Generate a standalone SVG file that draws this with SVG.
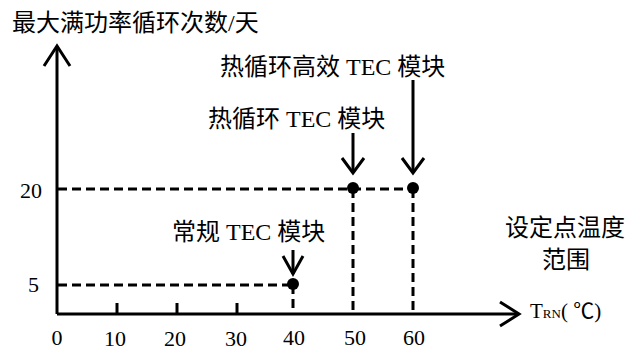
<svg xmlns="http://www.w3.org/2000/svg" width="630" height="351" viewBox="0 0 630 351">
<style>
.t{font-family:"Liberation Serif","Noto Sans CJK SC",serif;fill:#000}
.cj{font-size:24px}
.num{font-size:22px}
.ax{stroke:#000;stroke-width:3;fill:none}
.ds{stroke:#000;stroke-width:3;fill:none;stroke-dasharray:9 5}
.ar{stroke:#000;stroke-width:3;fill:none;stroke-linejoin:miter}
</style>
<rect width="630" height="351" fill="#fff"/>
<g id="axes">
<polyline class="ax" points="57,314 57,46"/>
<polyline class="ax" points="44,66 57,46 70,66"/>
<polyline class="ax" points="57,314 519,314"/>
<polyline class="ax" points="500,302 519,314 500,326"/>
<line class="ax" x1="117" y1="303" x2="117" y2="314"/>
<line class="ax" x1="177" y1="303" x2="177" y2="314"/>
<line class="ax" x1="237" y1="303" x2="237" y2="314"/>
</g>
<g id="connectors">
<line class="ds" x1="58" y1="189" x2="413" y2="189"/>
<line class="ds" x1="58" y1="285" x2="293" y2="285"/>
<line class="ds" x1="293" y1="285" x2="293" y2="314"/>
<line class="ds" x1="353" y1="189" x2="353" y2="314"/>
<line class="ds" x1="413" y1="189" x2="413" y2="314"/>
<line class="ar" x1="293" y1="250" x2="293" y2="274"/>
<polyline class="ar" points="283,256 293,274 303,256"/>
<line class="ar" x1="353" y1="133" x2="353" y2="173"/>
<polyline class="ar" points="342,158 353,173 364,158"/>
<line class="ar" x1="413" y1="80" x2="413" y2="173"/>
<polyline class="ar" points="402,158 413,173 424,158"/>
</g>
<g id="node-conventional">
<circle cx="293" cy="284" r="6"/>
<text class="t cj" x="172" y="240">常规 TEC 模块</text>
</g>
<g id="node-thermal">
<circle cx="353" cy="188" r="6"/>
<text class="t cj" x="208" y="127">热循环 TEC 模块</text>
</g>
<g id="node-thermal-hi">
<circle cx="413" cy="188" r="6"/>
<text class="t cj" x="220" y="75">热循环高效 TEC 模块</text>
</g>
<g id="labels">
<text class="t cj" x="12" y="31">最大满功率循环次数/天</text>
<text class="t cj" x="565" y="236" text-anchor="middle">设定点温度</text>
<text class="t cj" x="566" y="268" text-anchor="middle">范围</text>
<text class="t" x="530" y="318" font-size="21">T<tspan font-size="13">RN</tspan>( ℃)</text>
<text class="t num" x="42" y="198" text-anchor="end">20</text>
<text class="t num" x="39" y="292" text-anchor="end">5</text>
<g text-anchor="middle">
<text class="t num" x="57" y="345">0</text>
<text class="t num" x="115" y="346">10</text>
<text class="t num" x="175" y="346">20</text>
<text class="t num" x="236" y="346">30</text>
<text class="t num" x="294" y="345">40</text>
<text class="t num" x="355" y="345">50</text>
<text class="t num" x="414" y="345">60</text>
</g>
</g>
</svg>
